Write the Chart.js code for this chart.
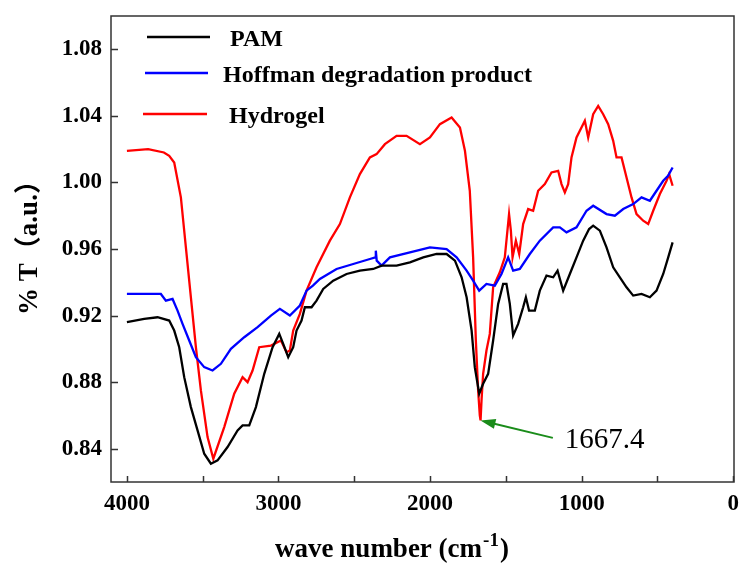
<!DOCTYPE html>
<html>
<head>
<meta charset="utf-8">
<script src="https://cdn.jsdelivr.net/npm/chart.js"></script>
<style>
  html, body { margin: 0; padding: 0; background: #fff; }
  #wrap { width: 739px; height: 563px; position: relative; }
</style>
</head>
<body>
<div id="wrap"><canvas id="ftir"></canvas></div>
<script>
// wavenumbers (cm-1) and %T
const pamWave = [4000, 3886, 3798, 3721, 3688, 3655, 3622, 3578, 3534, 3490,
  3446, 3402, 3336, 3270, 3237, 3193, 3149, 3094, 3039, 2995,
  2969, 2936, 2903, 2881, 2848, 2826, 2782, 2749, 2705, 2639,
  2551, 2463, 2375, 2320, 2221, 2133, 2045, 1957, 1891, 1836,
  1792, 1759, 1726, 1705, 1676, 1650, 1617, 1584, 1551, 1518,
  1496, 1474, 1452, 1419, 1386, 1368, 1347, 1309, 1276, 1232,
  1188, 1159, 1122, 1078, 1034, 990, 951, 924, 880, 836,
  792, 748, 704, 660, 605, 550, 506, 462, 429, 400];
const pamT = [0.916, 0.918, 0.919, 0.917, 0.911, 0.901, 0.883, 0.865, 0.851, 0.837,
  0.831, 0.833, 0.841, 0.851, 0.854, 0.854, 0.865, 0.885, 0.901, 0.909,
  0.903, 0.895, 0.901, 0.911, 0.917, 0.925, 0.925, 0.929, 0.936, 0.941,
  0.945, 0.947, 0.948, 0.950, 0.950, 0.952, 0.955, 0.957, 0.957, 0.953,
  0.943, 0.931, 0.911, 0.889, 0.873, 0.879, 0.885, 0.905, 0.927, 0.939,
  0.939, 0.927, 0.908, 0.915, 0.925, 0.931, 0.923, 0.923, 0.935, 0.944,
  0.943, 0.947, 0.935, 0.945, 0.955, 0.965, 0.972, 0.974, 0.971, 0.961,
  0.949, 0.943, 0.937, 0.932, 0.933, 0.931, 0.935, 0.945, 0.955, 0.964];

const hofWave = [4000, 3776, 3743, 3699, 3666, 3633, 3589, 3545, 3490, 3435,
  3380, 3314, 3226, 3138, 3050, 2991, 2925, 2859, 2815, 2773,
  2727, 2617, 2507, 2397, 2362, 2358, 2352, 2320, 2265, 2133,
  2001, 1891, 1825, 1759, 1716, 1676, 1628, 1573, 1529, 1485,
  1452, 1408, 1342, 1276, 1188, 1144, 1100, 1034, 968, 924,
  836, 781, 726, 660, 605, 550, 506, 462, 430, 400];
const hofT = [0.933, 0.933, 0.929, 0.930, 0.923, 0.915, 0.905, 0.895, 0.889, 0.887,
  0.891, 0.900, 0.907, 0.913, 0.920, 0.924, 0.920, 0.926, 0.935, 0.938,
  0.942, 0.948, 0.951, 0.954, 0.955, 0.959, 0.953, 0.950, 0.955, 0.958,
  0.961, 0.960, 0.955, 0.947, 0.941, 0.935, 0.939, 0.938, 0.945, 0.955,
  0.947, 0.948, 0.957, 0.965, 0.973, 0.973, 0.970, 0.973, 0.983, 0.986,
  0.981, 0.980, 0.984, 0.987, 0.991, 0.989, 0.995, 1.001, 1.004, 1.009];

const hydWave = [4000, 3860, 3756, 3721, 3688, 3644, 3611, 3578, 3545, 3512,
  3468, 3430, 3358, 3292, 3237, 3204, 3171, 3127, 3050, 2984,
  2947, 2925, 2903, 2859, 2815, 2749, 2661, 2595, 2529, 2463,
  2397, 2353, 2298, 2221, 2155, 2067, 2001, 1935, 1858, 1803,
  1770, 1738, 1716, 1698, 1683, 1672, 1667, 1660, 1650, 1628,
  1606, 1584, 1540, 1507, 1479, 1467, 1456, 1434, 1412, 1386,
  1353, 1320, 1287, 1243, 1199, 1155, 1133, 1111, 1089, 1067,
  1034, 979, 957, 924, 891, 858, 825, 792, 770, 737,
  704, 671, 638, 594, 561, 528, 484, 440, 423, 400];
const hydT = [1.019, 1.020, 1.018, 1.016, 1.012, 0.991, 0.961, 0.931, 0.901, 0.875,
  0.847, 0.834, 0.853, 0.873, 0.883, 0.880, 0.887, 0.901, 0.902, 0.905,
  0.898, 0.899, 0.911, 0.921, 0.935, 0.949, 0.965, 0.975, 0.991, 1.005,
  1.015, 1.017, 1.023, 1.028, 1.028, 1.023, 1.027, 1.035, 1.039, 1.033,
  1.019, 0.995, 0.955, 0.905, 0.875, 0.860, 0.857, 0.870, 0.885, 0.899,
  0.909, 0.937, 0.946, 0.955, 0.981, 0.971, 0.955, 0.965, 0.957, 0.975,
  0.984, 0.983, 0.995, 0.999, 1.006, 1.007, 0.999, 0.994, 0.999, 1.015,
  1.027, 1.037, 1.027, 1.041, 1.046, 1.041, 1.035, 1.025, 1.015, 1.015,
  1.003, 0.991, 0.981, 0.977, 0.975, 0.983, 0.993, 1.001, 1.005, 0.998];

const xTicks = [4000, 3000, 2000, 1000, 0];
const xMinorTicks = [3500, 2500, 1500, 500];
const yTicks = [0.84, 0.88, 0.92, 0.96, 1.00, 1.04, 1.08];

// peak label: arrow from text to the amide band minimum
const peakWave = 1667.4;
const peakT = 0.857;
const peakLabelWave = 1190;
const peakLabelT = 0.8465;

const serif = "'Liberation Serif', 'Times New Roman', serif";

const toPoints = (w, t) => w.map((v, i) => ({ x: v, y: t[i] }));

const decor = {
  id: 'decor',
  afterDraw(chart) {
    const { ctx, chartArea: a, scales: { x, y } } = chart;
    ctx.save();

    // frame
    ctx.strokeStyle = '#333';
    ctx.lineWidth = 1.5;
    ctx.strokeRect(a.left, a.top, a.right - a.left, a.bottom - a.top);

    // inward tick marks
    ctx.beginPath();
    xTicks.concat(xMinorTicks).forEach((v) => {
      const px = Math.round(x.getPixelForValue(v)) + 0.5;
      ctx.moveTo(px, a.bottom);
      ctx.lineTo(px, a.bottom - 6);
    });
    yTicks.forEach((v) => {
      const py = Math.round(y.getPixelForValue(v)) + 0.5;
      ctx.moveTo(a.left, py);
      ctx.lineTo(a.left + 7, py);
    });
    ctx.stroke();

    // legend inside the plot
    const rows = [
      { y: 21, x0: 36, x1: 99, tx: 119 },
      { y: 57, x0: 34, x1: 97, tx: 112 },
      { y: 98, x0: 32, x1: 96, tx: 118 },
    ];
    ctx.font = 'bold 24px ' + serif;
    ctx.textBaseline = 'middle';
    ctx.fillStyle = '#000';
    chart.data.datasets.forEach((ds, i) => {
      const r = rows[i];
      ctx.strokeStyle = ds.borderColor;
      ctx.lineWidth = 2.5;
      ctx.beginPath();
      ctx.moveTo(a.left + r.x0, a.top + r.y);
      ctx.lineTo(a.left + r.x1, a.top + r.y);
      ctx.stroke();
      ctx.fillText(ds.label, a.left + r.tx, a.top + r.y + 3);
    });

    // peak annotation
    const tipX = x.getPixelForValue(peakWave);
    const tipY = y.getPixelForValue(peakT);
    const tailX = x.getPixelForValue(peakLabelWave);
    const tailY = y.getPixelForValue(peakLabelT);
    const ang = Math.atan2(tailY - tipY, tailX - tipX);
    ctx.strokeStyle = '#1a8c1a';
    ctx.fillStyle = '#1a8c1a';
    ctx.lineWidth = 2;
    ctx.beginPath();
    ctx.moveTo(tailX, tailY);
    ctx.lineTo(tipX + 10 * Math.cos(ang), tipY + 10 * Math.sin(ang));
    ctx.stroke();
    ctx.beginPath();
    ctx.moveTo(tipX, tipY);
    ctx.lineTo(tipX + 15 * Math.cos(ang) - 5 * Math.sin(ang), tipY + 15 * Math.sin(ang) + 5 * Math.cos(ang));
    ctx.lineTo(tipX + 15 * Math.cos(ang) + 5 * Math.sin(ang), tipY + 15 * Math.sin(ang) - 5 * Math.cos(ang));
    ctx.closePath();
    ctx.fill();
    ctx.fillStyle = '#000';
    ctx.font = '29px ' + serif;
    ctx.textBaseline = 'middle';
    ctx.textAlign = 'left';
    ctx.fillText(String(peakWave), tailX + 12, tailY + 2);

    // x axis title with superscript
    const main = 'wave number (cm';
    const sup = '-1';
    ctx.font = 'bold 27px ' + serif;
    const wMain = ctx.measureText(main).width;
    const wClose = ctx.measureText(')').width;
    ctx.font = 'bold 19px ' + serif;
    const wSup = ctx.measureText(sup).width;
    let sx = 391 - (wMain + wSup + wClose) / 2;
    ctx.textBaseline = 'alphabetic';
    ctx.font = 'bold 27px ' + serif;
    ctx.fillText(main, sx, 557);
    ctx.font = 'bold 19px ' + serif;
    ctx.fillText(sup, sx + wMain + 1, 546);
    ctx.font = 'bold 27px ' + serif;
    ctx.fillText(')', sx + wMain + wSup + 2, 557);

    // y axis title
    ctx.translate(30, 241);
    ctx.rotate(-Math.PI / 2);
    ctx.textAlign = 'center';
    ctx.textBaseline = 'middle';
    ctx.font = "bold 27px 'Liberation Serif', 'Noto Sans CJK SC', serif";
    ctx.fillText('% T（a.u.）', 0, 0);

    ctx.restore();
  },
};

new Chart(document.getElementById('ftir'), {
  type: 'line',
  data: {
    datasets: [
      { label: 'PAM', data: toPoints(pamWave, pamT), borderColor: '#000000' },
      { label: 'Hoffman degradation product', data: toPoints(hofWave, hofT), borderColor: '#0000ff' },
      { label: 'Hydrogel', data: toPoints(hydWave, hydT), borderColor: '#ff0000' },
    ],
  },
  options: {
    responsive: true,
    maintainAspectRatio: false,
    animation: false,
    layout: { padding: { top: 16, right: 5, left: 0, bottom: 0 } },
    elements: {
      line: { borderWidth: 2.3, tension: 0 },
      point: { radius: 0 },
    },
    plugins: { legend: { display: false }, tooltip: { enabled: false } },
    scales: {
      x: {
        type: 'linear',
        reverse: true,
        min: -5,
        max: 4105,
        grid: { display: false, drawTicks: false },
        border: { display: false },
        afterBuildTicks: (s) => { s.ticks = xTicks.map((v) => ({ value: v })); },
        afterFit: (s) => { s.height = 81; s.paddingLeft = 0; s.paddingRight = 0; },
        ticks: {
          color: '#000',
          padding: 8,
          maxRotation: 0,
          font: { family: serif, size: 23, weight: 'bold' },
          callback: (v) => String(v),
        },
      },
      y: {
        min: 0.82,
        max: 1.10,
        grid: { display: false, drawTicks: false },
        border: { display: false },
        afterBuildTicks: (s) => { s.ticks = yTicks.map((v) => ({ value: v })); },
        afterFit: (s) => { s.width = 111; s.paddingTop = 0; s.paddingBottom = 0; },
        ticks: {
          color: '#000',
          padding: 9,
          font: { family: serif, size: 23, weight: 'bold' },
          callback: (v) => v.toFixed(2),
        },
      },
    },
  },
  plugins: [decor],
});
</script>
</body>
</html>
